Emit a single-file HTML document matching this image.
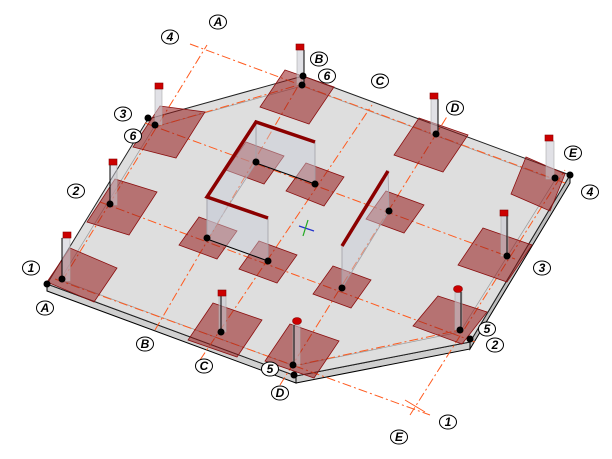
<!DOCTYPE html>
<html><head><meta charset="utf-8"><style>
html,body{margin:0;padding:0;background:#fff;width:612px;height:459px;overflow:hidden}
svg{display:block}
.lb{font-family:"Liberation Sans",sans-serif;font-style:italic;font-weight:bold;font-size:12px;text-anchor:middle}
</style></head><body>
<svg width="612" height="459" viewBox="0 0 612 459" xmlns="http://www.w3.org/2000/svg">
<polygon points="47,284 296,376 296,383 47,291" fill="#d0d0d0" stroke="#000" stroke-width="1"/>
<polygon points="296,376 470,342 470,349 296,383" fill="#cfcfcf" stroke="#000" stroke-width="1"/>
<polygon points="470,342 570,175 570,183 470,349" fill="#bdbdbd" stroke="#000" stroke-width="1"/>
<polygon points="47,284 148,119 303,76 570,175 470,342 296,376" fill="#dedede" stroke="#222" stroke-width="1"/>
<polyline points="60,280 154,127 302,86 555,180 460,332 294,366 60,280" fill="none" stroke="#999" stroke-width="0.7"/>
<g stroke="#ff5a1e" stroke-width="1" stroke-dasharray="9,3,2,3" fill="none">
<line x1="55" y1="279" x2="430" y2="415"/>
<line x1="100" y1="202" x2="475" y2="342"/>
<line x1="145" y1="123" x2="515" y2="259"/>
<line x1="190" y1="44" x2="565" y2="183"/>
<line x1="62" y1="281" x2="207" y2="45"/>
<line x1="155" y1="330" x2="304" y2="76"/>
<line x1="200" y1="360" x2="372" y2="105"/>
<line x1="280" y1="385" x2="448" y2="115"/>
<line x1="410" y1="415" x2="565" y2="170"/>
<line x1="155" y1="127" x2="302" y2="84"/>
<line x1="293" y1="366" x2="460" y2="330"/>
</g>
<g stroke="#ff5a1e" stroke-width="1"><line x1="405" y1="400" x2="425" y2="412"/></g>
<g fill="rgba(150,25,25,0.55)" stroke="#8b1010" stroke-width="0.8">
<polygon points="70,248 117,268 94,302 47,282"/>
<polygon points="115,179 157,192 129,235 87,222"/>
<polygon points="160,106 205,112 176,158 133,147"/>
<polygon points="285,70 334,87 309,124 260,107"/>
<polygon points="419,118 468,135 443,172 394,155"/>
<polygon points="526,157 565,174 550,211 511,194"/>
<polygon points="483,228 532,245 507,282 458,265"/>
<polygon points="438,296 487,312 462,344 413,326"/>
<polygon points="290,324 339,341 314,378 265,361"/>
<polygon points="213,303 262,320 237,357 188,340"/>
<polygon points="246,142 284,156 264,184 226,170"/>
<polygon points="306,163 344,177 324,206 286,191"/>
<polygon points="199,217 237,231 217,259 179,245"/>
<polygon points="259,241 297,255 277,283 239,269"/>
<polygon points="333,266 371,280 351,308 313,294"/>
<polygon points="386,191 424,205 404,233 366,219"/>
</g>
<g fill="rgba(200,205,215,0.45)" stroke="#a0a0a8" stroke-width="0.8">
<polygon points="256,122 315,142 315,184 256,163"/>
<polygon points="256,122 207,197 207,239 256,163"/>
<polygon points="207,197 268,218 268,261 207,239"/>
<polygon points="388,171 342,246 342,288 389,211"/>
</g>
<polyline points="315,142 256,122 207,197 268,218" fill="none" stroke="#8b0000" stroke-width="3.5"/>
<line x1="388" y1="171" x2="342" y2="246" stroke="#8b0000" stroke-width="3.5"/>
<g stroke="#000" stroke-width="1"><line x1="256" y1="163" x2="315" y2="184"/><line x1="207" y1="239" x2="268" y2="261"/></g>
<g fill="rgba(200,200,210,0.55)" stroke="#aaa" stroke-width="0.6">
<rect x="62" y="238" width="8" height="43"/>
<rect x="110" y="165" width="7" height="40"/>
<rect x="155" y="89" width="7" height="36"/>
<rect x="297" y="50" width="7" height="35"/>
<rect x="431" y="99" width="7" height="35"/>
<rect x="546" y="141" width="8" height="38"/>
<rect x="501" y="216" width="7" height="40"/>
<rect x="455" y="292" width="7" height="38"/>
<rect x="293" y="325" width="7" height="41"/>
<rect x="219" y="296" width="7" height="36"/>
</g>
<g stroke="#000" stroke-width="1">
<line x1="62" y1="238" x2="62" y2="281"/><line x1="110" y1="165" x2="110" y2="205"/>
<line x1="221" y1="296" x2="221" y2="332"/><line x1="507" y1="216" x2="507" y2="256"/>
<line x1="461" y1="292" x2="461" y2="330"/><line x1="294" y1="325" x2="294" y2="366"/>
<line x1="304" y1="50" x2="304" y2="84"/><line x1="438" y1="99" x2="438" y2="133"/>
</g>
<g fill="#cc0000" stroke="#8b0000" stroke-width="0.6">
<rect x="63" y="232" width="8" height="6"/><rect x="109" y="159" width="8" height="6"/>
<rect x="155" y="83" width="8" height="6"/><rect x="296" y="44" width="8" height="6"/>
<rect x="430" y="93" width="8" height="6"/><rect x="545" y="135" width="8" height="6"/>
<rect x="500" y="210" width="8" height="6"/><rect x="218" y="290" width="8" height="6"/>
<ellipse cx="458" cy="289" rx="4.5" ry="3.5"/><ellipse cx="297" cy="321" rx="4.5" ry="3.5"/>
</g>
<g fill="#000">
<circle cx="62" cy="279" r="3.5"/><circle cx="47" cy="284" r="3.5"/><circle cx="110" cy="204" r="3.5"/>
<circle cx="155" cy="125" r="3.5"/><circle cx="148" cy="118" r="3.5"/><circle cx="302" cy="85" r="3.5"/>
<circle cx="303" cy="76" r="3.5"/><circle cx="436" cy="134" r="3.5"/><circle cx="555" cy="178" r="3.5"/>
<circle cx="570" cy="175" r="3.5"/><circle cx="507" cy="256" r="3.5"/><circle cx="460" cy="330" r="3.5"/>
<circle cx="470" cy="339" r="3.5"/><circle cx="293" cy="365" r="3.5"/><circle cx="294" cy="375" r="3.5"/>
<circle cx="221" cy="332" r="3.5"/><circle cx="256" cy="162" r="3.5"/><circle cx="315" cy="184" r="3.5"/>
<circle cx="207" cy="238" r="3.5"/><circle cx="268" cy="261" r="3.5"/><circle cx="342" cy="288" r="3.5"/>
<circle cx="389" cy="211" r="3.5"/>
</g>
<g stroke-width="1.2" fill="none"><line x1="299" y1="226" x2="314" y2="231" stroke="#2233cc"/><line x1="308" y1="220" x2="303" y2="236" stroke="#22aa22"/></g>
<g fill="#fff" stroke="#000" stroke-width="1">
<ellipse cx="218" cy="22" rx="8.5" ry="7"/><ellipse cx="170" cy="37" rx="8.5" ry="7"/>
<ellipse cx="319" cy="59" rx="8.5" ry="7"/><ellipse cx="327" cy="76" rx="8.5" ry="7"/>
<ellipse cx="380" cy="81" rx="8.5" ry="7"/><ellipse cx="455" cy="108" rx="8.5" ry="7"/>
<ellipse cx="573" cy="153" rx="8.5" ry="7"/><ellipse cx="590" cy="192" rx="8.5" ry="7"/>
<ellipse cx="123" cy="114" rx="8.5" ry="7"/><ellipse cx="133" cy="136" rx="8.5" ry="7"/>
<ellipse cx="76" cy="191" rx="8.5" ry="7"/><ellipse cx="31" cy="268" rx="8.5" ry="7"/>
<ellipse cx="45" cy="308" rx="8.5" ry="7"/><ellipse cx="145" cy="344" rx="8.5" ry="7"/>
<ellipse cx="204" cy="366" rx="8.5" ry="7"/><ellipse cx="270" cy="369" rx="8.5" ry="7"/>
<ellipse cx="280" cy="393" rx="8.5" ry="7"/><ellipse cx="542" cy="268" rx="8.5" ry="7"/>
<ellipse cx="487" cy="329" rx="8.5" ry="7"/><ellipse cx="495" cy="345" rx="8.5" ry="7"/>
<ellipse cx="448" cy="422" rx="8.5" ry="7"/><ellipse cx="399" cy="437" rx="8.5" ry="7"/>
</g>
<g>
<text x="218" y="26" class="lb">A</text><text x="170" y="41" class="lb">4</text>
<text x="319" y="63" class="lb">B</text><text x="327" y="80" class="lb">6</text>
<text x="380" y="85" class="lb">C</text><text x="455" y="112" class="lb">D</text>
<text x="573" y="157" class="lb">E</text><text x="590" y="196" class="lb">4</text>
<text x="123" y="118" class="lb">3</text><text x="133" y="140" class="lb">6</text>
<text x="76" y="195" class="lb">2</text><text x="31" y="272" class="lb">1</text>
<text x="45" y="312" class="lb">A</text><text x="145" y="348" class="lb">B</text>
<text x="204" y="370" class="lb">C</text><text x="270" y="373" class="lb">5</text>
<text x="280" y="397" class="lb">D</text><text x="542" y="272" class="lb">3</text>
<text x="487" y="333" class="lb">5</text><text x="495" y="349" class="lb">2</text>
<text x="448" y="426" class="lb">1</text><text x="399" y="441" class="lb">E</text>
</g>
</svg>
</body></html>
